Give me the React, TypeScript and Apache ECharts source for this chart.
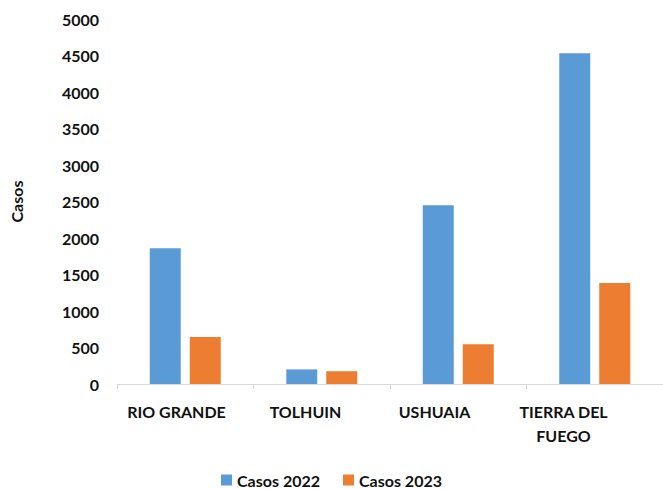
import React, { useEffect, useRef } from "react";
import * as echarts from "echarts";

const categories = ["RIO GRANDE", "TOLHUIN", "USHUAIA", "TIERRA DEL\nFUEGO"];
const casos2022 = [1860, 200, 2450, 4530];
const casos2023 = [645, 175, 545, 1385];
const seriesNames = ["Casos 2022", "Casos 2023"];
const yTicks = { min: 0, max: 5000, interval: 500 };

const FONT = "Lato";
const TEXT = "#111111";

export default function App() {
  const ref = useRef<HTMLDivElement>(null);
  useEffect(() => {
    if (!ref.current) return;
    const chart = echarts.init(ref.current, undefined, { renderer: "svg" });
    chart.setOption({
      animation: false,
      backgroundColor: "#ffffff",
      textStyle: { fontFamily: FONT },
      legend: {
        top: 472,
        left: "center",
        padding: 0,
        itemWidth: 11,
        itemHeight: 11,
        itemGap: 23,
        icon: "rect",
        textStyle: { fontFamily: FONT, fontWeight: "bold", fontSize: 16, lineHeight: 16, color: TEXT },
        data: seriesNames,
      },
      grid: [
        { left: 110, top: 19, width: 560, bottom: 105, containLabel: false },
        { left: 112, top: 19, width: 516, bottom: 105, containLabel: false },
      ],
      xAxis: [
        {
          type: "category",
          gridIndex: 0,
          data: categories,
          axisLine: { show: true, lineStyle: { color: "#d9d9d9", width: 1 } },
          axisTick: { show: true, length: 5, lineStyle: { color: "#d9d9d9" } },
          axisLabel: { show: false },
        },
        {
          type: "category",
          gridIndex: 1,
          data: categories,
          axisLine: { show: false },
          axisTick: { show: false },
          axisLabel: {
            fontFamily: FONT,
            fontWeight: "bold",
            fontSize: 16,
            color: TEXT,
            margin: 15,
            lineHeight: 24,
            interval: 0,
          },
        },
      ],
      yAxis: [
        {
          type: "value",
          gridIndex: 0,
          min: yTicks.min,
          max: yTicks.max,
          interval: yTicks.interval,
          name: "Casos",
          nameLocation: "middle",
          nameGap: 93,
          nameRotate: 90,
          nameTextStyle: { fontFamily: FONT, fontWeight: "bold", fontSize: 16, color: TEXT },
          axisLine: { show: false },
          axisTick: { show: false },
          splitLine: { show: false },
          axisLabel: {
            fontFamily: FONT,
            fontWeight: "bold",
            fontSize: 16,
            color: TEXT,
            margin: 18,
            formatter: (v: number) => String(v),
          },
        },
        {
          type: "value",
          gridIndex: 1,
          min: yTicks.min,
          max: yTicks.max,
          show: false,
        },
      ],
      series: [
        {
          name: seriesNames[0],
          type: "bar",
          data: casos2022,
          barWidth: 31,
          barGap: "29%",
          itemStyle: { color: "#5b9bd5" },
        },
        {
          name: seriesNames[1],
          type: "bar",
          data: casos2023,
          barWidth: 31,
          itemStyle: { color: "#ed7d31" },
        },
      ],
    });
    return () => chart.dispose();
  }, []);
  return (
    <div
      ref={ref}
      style={{ position: "absolute", left: 0, top: 0, width: 663, height: 489 }}
    />
  );
}
